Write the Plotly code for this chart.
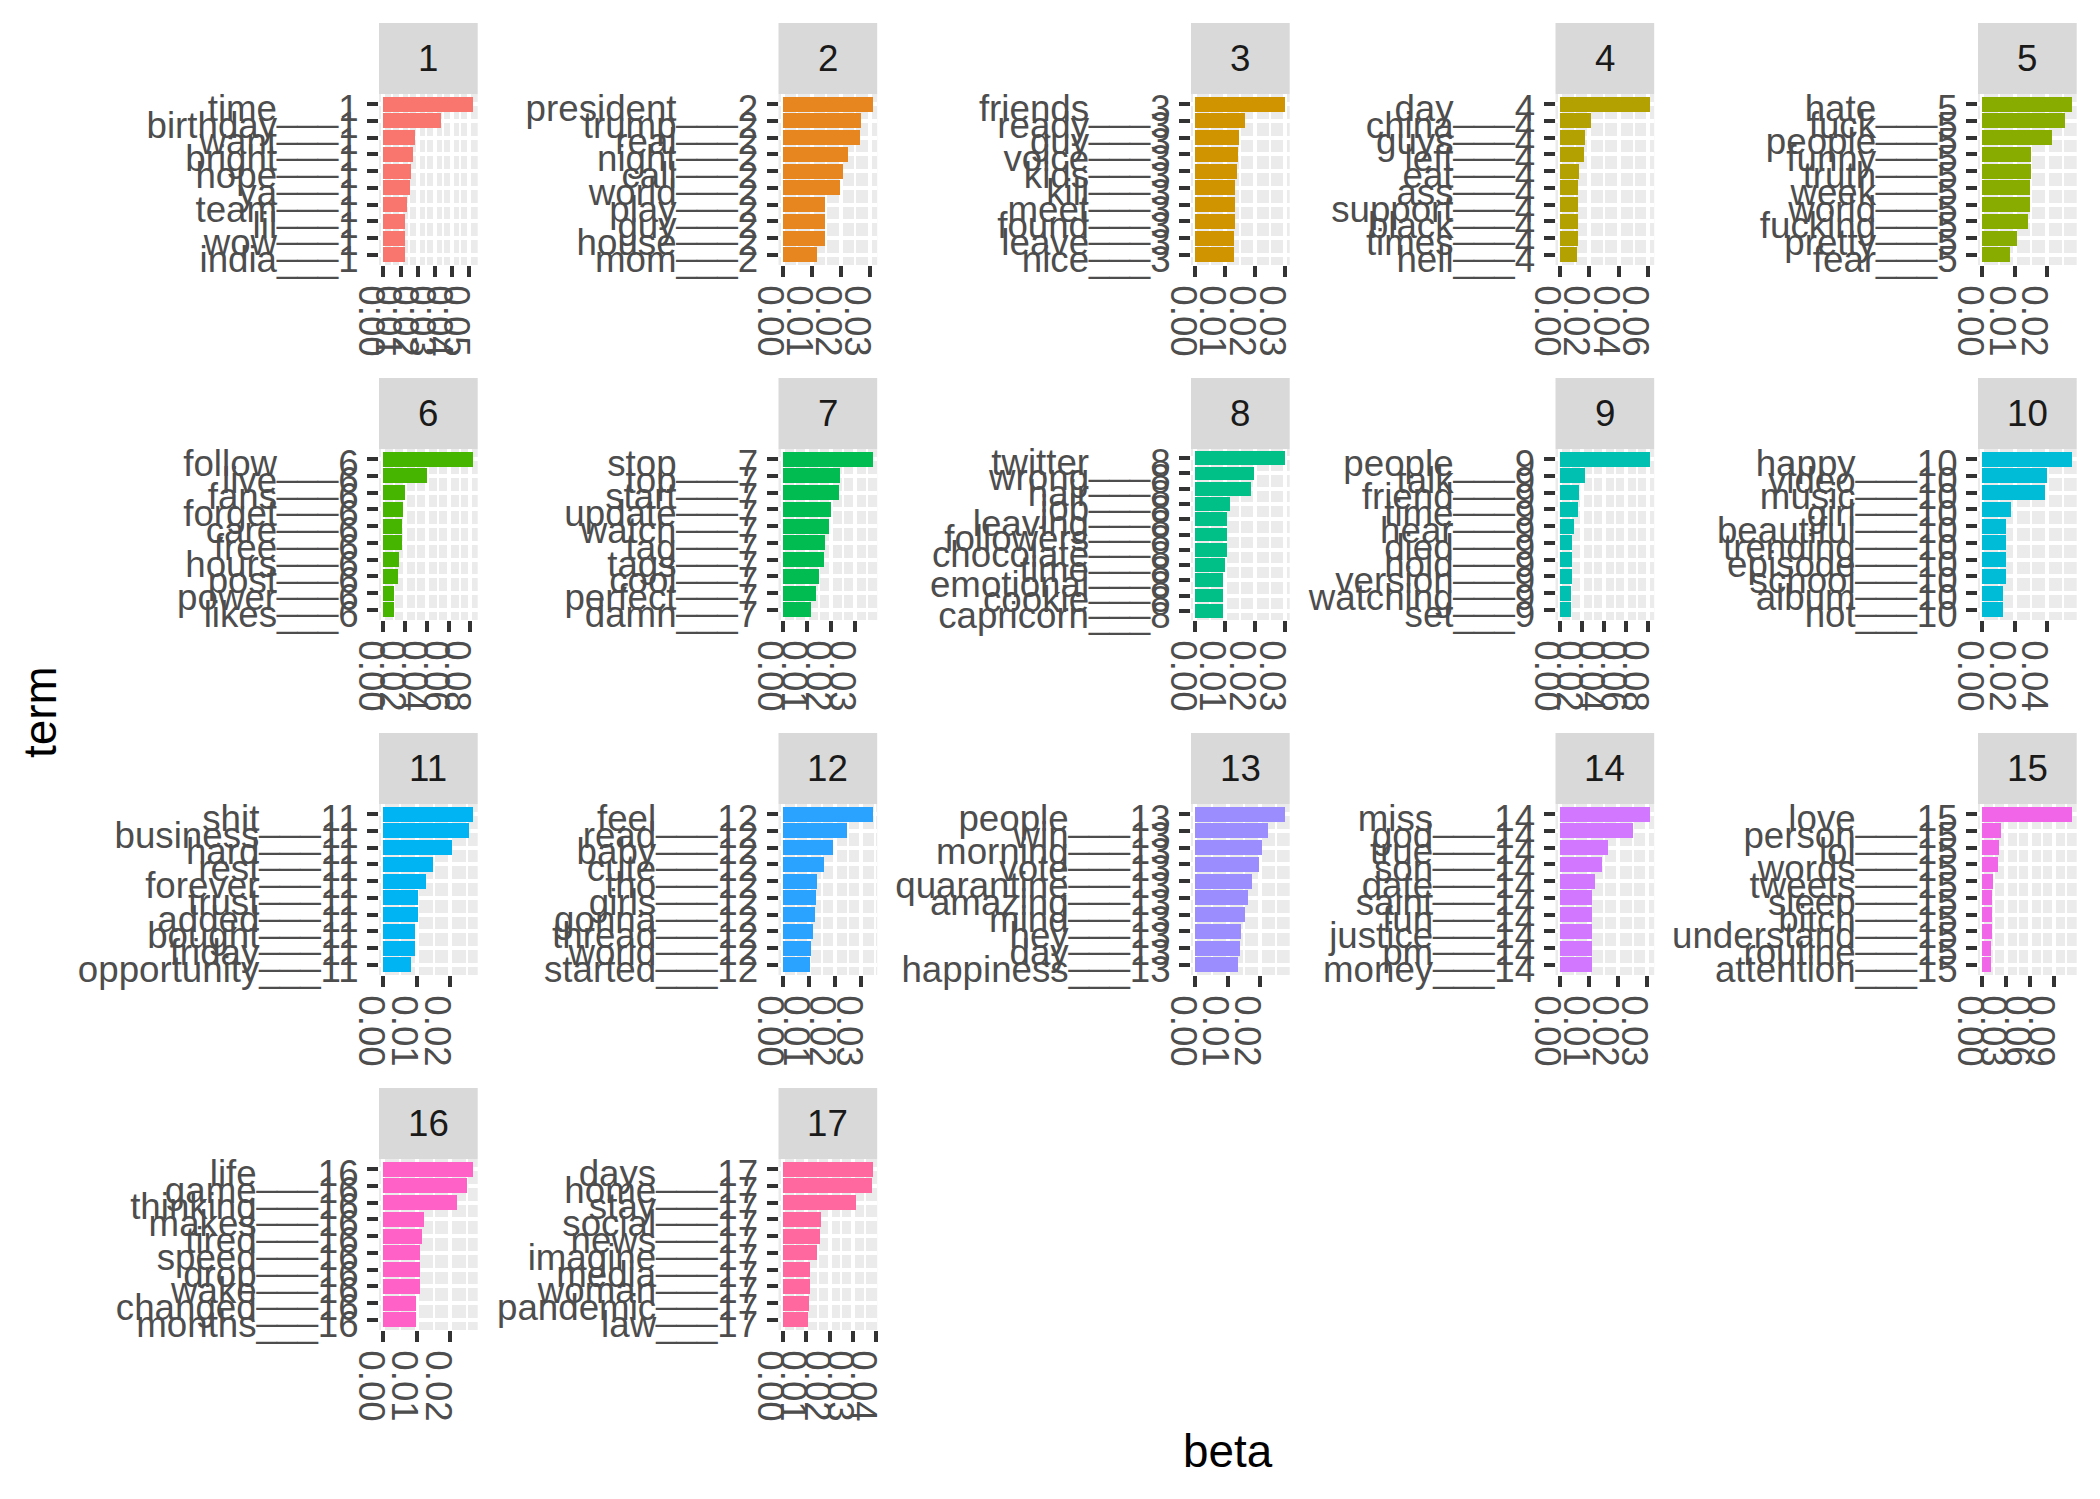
import math
import plotly.graph_objects as go

# ---------------- data ----------------
topic_1_terms = ["time", "birthday", "want", "bright", "hope", "ya", "team", "lil", "wow", "india"]
topic_1_beta = [0.0525, 0.0339, 0.0182, 0.0171, 0.0159, 0.0153, 0.0136, 0.0124, 0.0124, 0.0124]

topic_2_terms = ["president", "trump", "real", "night", "call", "world", "play", "guy", "house", "mom"]
topic_2_beta = [0.0310, 0.0269, 0.0263, 0.0222, 0.0204, 0.0194, 0.0145, 0.0145, 0.0145, 0.0116]

topic_3_terms = ["friends", "ready", "guy", "voice", "kids", "kill", "meet", "found", "leave", "nice"]
topic_3_beta = [0.0300, 0.0167, 0.0144, 0.0141, 0.0138, 0.0131, 0.0131, 0.0131, 0.0128, 0.0128]

topic_4_terms = ["day", "china", "guys", "left", "eat", "ass", "support", "black", "times", "hell"]
topic_4_beta = [0.0610, 0.0205, 0.0168, 0.0158, 0.0126, 0.0121, 0.0116, 0.0116, 0.0116, 0.0110]

topic_5_terms = ["hate", "fuck", "people", "funny", "truth", "week", "world", "fucking", "pretty", "fear"]
topic_5_beta = [0.0279, 0.0257, 0.0217, 0.0150, 0.0150, 0.0147, 0.0147, 0.0141, 0.0107, 0.0086]

topic_6_terms = ["follow", "live", "fans", "forget", "care", "free", "hours", "post", "power", "likes"]
topic_6_beta = [0.0826, 0.0405, 0.0195, 0.0184, 0.0168, 0.0168, 0.0147, 0.0132, 0.0100, 0.0100]

topic_7_terms = ["stop", "top", "start", "update", "watch", "tag", "tags", "cool", "perfect", "damn"]
topic_7_beta = [0.0376, 0.0238, 0.0231, 0.0198, 0.0190, 0.0174, 0.0169, 0.0148, 0.0136, 0.0114]

topic_8_terms = ["twitter", "wrong", "hair", "job", "leaving", "followers", "chocolate", "time",
                 "emotional", "cookie", "capricorn"]
topic_8_beta = [0.0300, 0.0195, 0.0185, 0.0115, 0.0105, 0.0105, 0.0105, 0.0097, 0.0092, 0.0092, 0.0092]

topic_9_terms = ["people", "talk", "friend", "time", "hear", "died", "hold", "version", "watching", "set"]
topic_9_beta = [0.0820, 0.0227, 0.0170, 0.0163, 0.0120, 0.0106, 0.0106, 0.0106, 0.0100, 0.0100]

topic_10_terms = ["happy", "video", "music", "girl", "beautiful", "trending", "episode", "school", "album", "hot"]
topic_10_beta = [0.0557, 0.0400, 0.0386, 0.0180, 0.0148, 0.0148, 0.0143, 0.0143, 0.0129, 0.0129]

topic_11_terms = ["shit", "business", "hard", "rest", "forever", "trust", "added", "bought", "friday", "opportunity"]
topic_11_beta = [0.0269, 0.0257, 0.0204, 0.0147, 0.0126, 0.0102, 0.0102, 0.0093, 0.0093, 0.0081]

topic_12_terms = ["feel", "read", "baby", "cute", "tho", "girls", "gonna", "thread", "world", "started"]
topic_12_beta = [0.0343, 0.0241, 0.0191, 0.0154, 0.0130, 0.0124, 0.0120, 0.0113, 0.0104, 0.0100]

topic_13_terms = ["people", "win", "morning", "vote", "quarantine", "amazing", "mind", "hey", "day", "happiness"]
topic_13_beta = [0.0279, 0.0226, 0.0207, 0.0198, 0.0176, 0.0164, 0.0155, 0.0143, 0.0138, 0.0131]

topic_14_terms = ["miss", "god", "true", "son", "date", "saint", "fun", "justice", "pm", "money"]
topic_14_beta = [0.0308, 0.0249, 0.0164, 0.0143, 0.0119, 0.0109, 0.0109, 0.0109, 0.0109, 0.0109]

topic_15_terms = ["love", "person", "lol", "words", "tweets", "sleep", "bitch", "understand", "routine", "attention"]
topic_15_beta = [0.1132, 0.0232, 0.0213, 0.0194, 0.0135, 0.0116, 0.0116, 0.0116, 0.0106, 0.0106]

topic_16_terms = ["life", "game", "thinking", "makes", "tired", "speed", "drop", "wake", "changed", "months"]
topic_16_beta = [0.0268, 0.0248, 0.0220, 0.0120, 0.0116, 0.0108, 0.0108, 0.0108, 0.0096, 0.0096]

topic_17_terms = ["days", "home", "stay", "social", "news", "imagine", "media", "woman", "pandemic", "law"]
topic_17_beta = [0.0385, 0.0380, 0.0310, 0.0163, 0.0156, 0.0144, 0.0112, 0.0112, 0.0110, 0.0105]

# x tick spacing (beta axis) per facet
tick_steps = [0.01, 0.01, 0.01, 0.02, 0.01, 0.02, 0.01, 0.01, 0.02, 0.02,
              0.01, 0.01, 0.01, 0.01, 0.03, 0.01, 0.01]

topics = [
    (1, topic_1_terms, topic_1_beta), (2, topic_2_terms, topic_2_beta),
    (3, topic_3_terms, topic_3_beta), (4, topic_4_terms, topic_4_beta),
    (5, topic_5_terms, topic_5_beta), (6, topic_6_terms, topic_6_beta),
    (7, topic_7_terms, topic_7_beta), (8, topic_8_terms, topic_8_beta),
    (9, topic_9_terms, topic_9_beta), (10, topic_10_terms, topic_10_beta),
    (11, topic_11_terms, topic_11_beta), (12, topic_12_terms, topic_12_beta),
    (13, topic_13_terms, topic_13_beta), (14, topic_14_terms, topic_14_beta),
    (15, topic_15_terms, topic_15_beta), (16, topic_16_terms, topic_16_beta),
    (17, topic_17_terms, topic_17_beta),
]

# ---------------- style / layout ----------------
PAGE_MARGIN = 8               # default body margin of the html page
W = 2100 - 2 * PAGE_MARGIN
H = 1499 - 2 * PAGE_MARGIN
FONT = "Liberation Sans, Arial, Helvetica, sans-serif"
AXIS_TXT = 36.7
TITLE_TXT = 45.8
col_left = [379, 778.5, 1191, 1555.5, 1978]
panel_w = 98.7
row_strip_top = [23, 378, 733, 1088]
strip_h = 71
panel_h = 171


def px(p):
    return (p - PAGE_MARGIN) / W


def py(p):
    return 1 - (p - PAGE_MARGIN) / H


def hue_colors(n, c=100, l=65):
    Xn, Yn, Zn = 95.047, 100.0, 108.883
    den = Xn + 15 * Yn + 3 * Zn
    un, vn = 4 * Xn / den, 9 * Yn / den
    out = []
    for i in range(n):
        h = 15 + 360.0 * i / n
        Y = Yn * ((l + 16) / 116.0) ** 3
        u = c * math.cos(math.radians(h))
        v = c * math.sin(math.radians(h))
        up = u / (13 * l) + un
        vp = v / (13 * l) + vn
        X = Y * 9 * up / (4 * vp)
        Z = Y * (12 - 3 * up - 20 * vp) / (4 * vp)
        X, Yy, Z = X / 100, Y / 100, Z / 100
        rgb = [3.240479 * X - 1.537150 * Yy - 0.498535 * Z,
               -0.969256 * X + 1.875992 * Yy + 0.041556 * Z,
               0.055648 * X - 0.204043 * Yy + 1.057311 * Z]
        vals = []
        for ch in rgb:
            ch = 12.92 * ch if ch <= 0.0031308 else 1.055 * ch ** (1 / 2.4) - 0.055
            ch = min(1, max(0, ch))
            vals.append(int(round(ch * 255)))
        out.append("#%02X%02X%02X" % tuple(vals))
    return out


colors = hue_colors(len(topics))

fig = go.Figure()
layout = dict(
    width=W, height=H,
    margin=dict(l=0, r=0, t=0, b=0),
    paper_bgcolor="white",
    plot_bgcolor="#EBEBEB",
    showlegend=False,
    font=dict(family=FONT, color="#4D4D4D", size=AXIS_TXT),
    bargap=0,
)
shapes = []
annotations = []

for i, (k, terms, betas) in enumerate(topics):
    r, c = divmod(i, 5)
    n = len(terms)
    ypos = [n - j for j in range(n)]
    labels = [f"{t}___{k}" for t in terms]
    xname = "x" if i == 0 else f"x{i + 1}"
    yname = "y" if i == 0 else f"y{i + 1}"
    fig.add_trace(go.Bar(
        x=betas, y=ypos, orientation="h", width=0.9,
        marker=dict(color=colors[i], line=dict(width=0)),
        xaxis=xname, yaxis=yname, hoverinfo="x+y",
    ))
    L = col_left[c]
    top = row_strip_top[r] + strip_h
    xd = [px(L), px(L + panel_w)]
    yd = [py(top + panel_h), py(top)]
    mx = max(betas)
    step = tick_steps[i]
    xk = "xaxis" if i == 0 else f"xaxis{i + 1}"
    yk = "yaxis" if i == 0 else f"yaxis{i + 1}"
    layout[xk] = dict(
        domain=xd, anchor=yname, range=[-0.05 * mx, 1.05 * mx],
        tickmode="linear", tick0=0, dtick=step, tickformat=".2f",
        tickangle=90, ticks="outside", ticklen=11, tickwidth=4.4, tickcolor="#333333",
        tickfont=dict(family=FONT, size=AXIS_TXT, color="#4D4D4D"),
        ticklabelstandoff=1, ticklabelshift=-13,
        showgrid=True, gridcolor="white", gridwidth=4.4,
        minor=dict(tick0=0, dtick=step / 2, showgrid=True, gridcolor="white", gridwidth=2.2, ticks=""),
        zeroline=False, showline=False, automargin=False, fixedrange=True,
    )
    layout[yk] = dict(
        domain=yd, anchor=xname, range=[0.4, n + 0.6],
        tickmode="array", tickvals=ypos, ticktext=labels,
        ticks="outside", ticklen=11, tickwidth=4.4, tickcolor="#333333",
        tickfont=dict(family=FONT, size=AXIS_TXT, color="#4D4D4D"),
        ticklabelstandoff=1, ticklabelshift=4,
        showgrid=True, gridcolor="white", gridwidth=4.4,
        zeroline=False, showline=False, automargin=False, fixedrange=True,
    )
    # facet strip
    shapes.append(dict(type="rect", xref="paper", yref="paper",
                       x0=px(L), x1=px(L + panel_w),
                       y0=py(row_strip_top[r] + strip_h), y1=py(row_strip_top[r]),
                       fillcolor="#D9D9D9", line=dict(width=0), layer="below"))
    annotations.append(dict(text=str(k), xref="paper", yref="paper",
                            x=px(L + panel_w / 2), y=py(row_strip_top[r] + strip_h / 2),
                            xanchor="center", yanchor="middle", showarrow=False,
                            font=dict(family=FONT, size=AXIS_TXT, color="#1A1A1A")))

annotations.append(dict(text="beta", xref="paper", yref="paper",
                        x=px(1228), y=py(1451), xanchor="center", yanchor="middle",
                        showarrow=False, font=dict(family=FONT, size=TITLE_TXT, color="black")))
annotations.append(dict(text="term", xref="paper", yref="paper", textangle=-90,
                        x=px(40), y=py(712), xanchor="center", yanchor="middle",
                        showarrow=False, font=dict(family=FONT, size=TITLE_TXT, color="black")))

layout["shapes"] = shapes
layout["annotations"] = annotations
fig.update_layout(**layout)
fig.write_html("out.html")
